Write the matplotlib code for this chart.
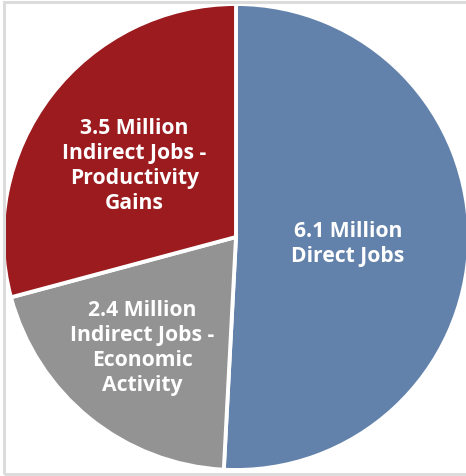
import numpy as np
import matplotlib
matplotlib.use('Agg')
import matplotlib.pyplot as plt
from matplotlib.patches import Rectangle
from matplotlib.transforms import offset_copy

labels = ['6.1 Million\nDirect Jobs',
          '2.4 Million\nIndirect Jobs -\nEconomic\nActivity',
          '3.5 Million\nIndirect Jobs -\nProductivity\nGains']
values = [6.1, 2.4, 3.5]
colors = ['#6382ab', '#939393', '#9b1b1f']
# label placement: fraction of radius and small angle nudge (deg)
label_r = [0.48, 0.60, 0.55]
label_turn = [1.5, -3.0, 0.0]

W, H = 466, 477
fig = plt.figure(figsize=(W / 100, H / 100), dpi=100)
fig.patch.set_facecolor('white')

# light grey frame around the picture
fig.patches.append(Rectangle((3.5 / W, 2.5 / H), (W + 4) / W, (H - 5.5) / H,
                             transform=fig.transFigure, fill=False,
                             edgecolor='#dcdcdc', lw=2.2, zorder=0))

cx, cy, r = 236, 238, 233
ax = fig.add_axes([(cx - r) / W, (H - cy - r) / H, 2 * r / W, 2 * r / H])
wedges, _ = ax.pie(values, colors=colors, startangle=90, counterclock=False,
                   radius=1.0,
                   wedgeprops=dict(edgecolor='white', linewidth=2.8))
ax.set_xlim(-1, 1)
ax.set_ylim(-1, 1)
ax.set_aspect('equal')
ax.axis('off')

tr = offset_copy(ax.transData, fig=fig, x=0, y=-6, units='dots')
for w, lab, d, t in zip(wedges, labels, label_r, label_turn):
    ang = np.deg2rad((w.theta1 + w.theta2) / 2 + t)
    ax.text(d * np.cos(ang), d * np.sin(ang), lab, ha='center', va='center',
            color='white', fontsize=15.2, fontweight='bold',
            family='Open Sans', linespacing=1.26, transform=tr)

fig.savefig('out.png', dpi=100)
